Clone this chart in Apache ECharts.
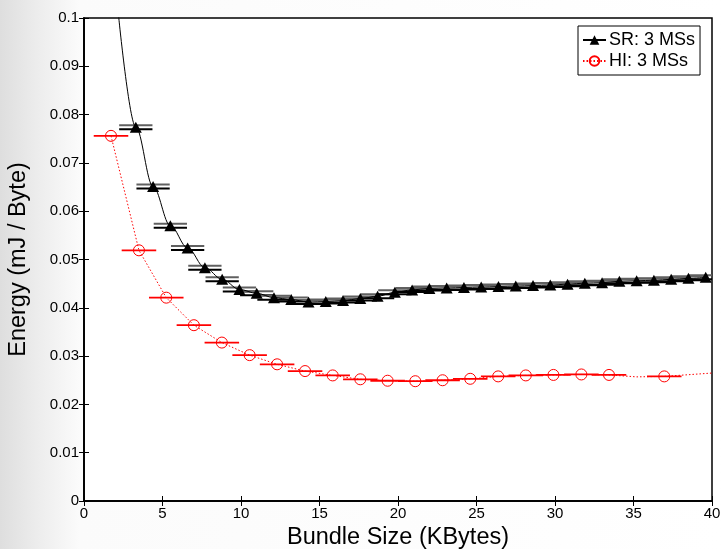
<!DOCTYPE html>
<html>
<head>
<meta charset="utf-8">
<script src="https://cdn.jsdelivr.net/npm/echarts@6/dist/echarts.min.js"></script>
<style>
  html, body { margin: 0; padding: 0; }
  #chart { width: 723px; height: 549px; }
</style>
</head>
<body>
<div id="chart"></div>
<script>
// Bundle size (KBytes) and energy per byte (mJ / Byte)
const srX = [2.2, 3.3, 4.4, 5.5, 6.6, 7.7, 8.8, 9.9, 11.0, 12.1, 13.2, 14.3, 15.4, 16.5, 17.6, 18.7, 19.8,
             20.9, 22.0, 23.1, 24.2, 25.3, 26.4, 27.5, 28.6, 29.7, 30.8, 31.9, 33.0, 34.1, 35.2, 36.3,
             37.4, 38.5, 39.6];
const srY = [0.1005, 0.0774, 0.0651, 0.0570, 0.0524, 0.0483, 0.0459, 0.0438, 0.0430, 0.0421, 0.0417, 0.0412,
             0.0413, 0.0415, 0.0419, 0.0424, 0.0432, 0.0437, 0.0440, 0.0441, 0.0442, 0.0443, 0.0444,
             0.0445, 0.0446, 0.0447, 0.0449, 0.0451, 0.0452, 0.0455, 0.0456, 0.0457, 0.0459, 0.0461,
             0.0463];
const srErr = [0, 1.06, 1.06, 1.06, 1.06, 1.06, 1.06, 1.06, 1.06, 1.06, 1.06, 1.06, 1.06, 1.06, 1.06, 1.06,
               1.06, 1.06, 1.06, 1.06, 1.06, 1.06, 1.06, 1.06, 1.06, 1.06, 1.06, 1.06, 1.06, 1.06, 1.06,
               1.06, 1.06, 1.06, 1.06];
const srMarked = [false, true, true, true, true, true, true, true, true, true, true, true, true, true, true,
                  true, true, true, true, true, true, true, true, true, true, true, true, true, true, true,
                  true, true, true, true, true];

const hiX = [1.72, 3.5, 5.24, 7.0, 8.78, 10.55, 12.3, 14.08, 15.84, 17.6, 19.34, 21.1, 22.84, 24.6,
             26.38, 28.14, 29.9, 31.68, 33.44, 35.2, 36.96, 38.72, 40.48];
const hiY = [0.0756, 0.0519, 0.0421, 0.0364, 0.0328, 0.0302, 0.0283, 0.0269, 0.0260, 0.0252, 0.0249,
             0.0248, 0.0250, 0.0253, 0.0258, 0.0260, 0.0261, 0.0262, 0.0261, 0.0257, 0.0258, 0.0262,
             0.0266];
const hiErr = [1.1, 1.1, 1.1, 1.1, 1.1, 1.1, 1.1, 1.1, 1.1, 1.1, 1.1, 1.1, 1.1, 1.1, 1.1, 1.1, 1.1, 1.1,
               1.1, 0, 1.1, 0, 0];
const hiMarked = [true, true, true, true, true, true, true, true, true, true, true, true, true, true, true,
                  true, true, true, true, false, true, false, false];

const xTicks = [0, 5, 10, 15, 20, 25, 30, 35, 40];
const yTicks = [0, 0.01, 0.02, 0.03, 0.04, 0.05, 0.06, 0.07, 0.08, 0.09, 0.1];

const FONT = 'Liberation Sans, Arial, sans-serif';

function pointData(xs, ys, marked) {
  return xs.map((x, i) => marked[i] ? [x, ys[i]] : { value: [x, ys[i]], symbol: 'none' });
}
function errData(xs, ys, errs) {
  const out = [];
  xs.forEach((x, i) => { if (errs[i] > 0) out.push([x, ys[i], errs[i]]); });
  return out;
}

// Horizontal error bars; SR bars are drawn as a grey/black pair of strokes
function barRenderer(lines) {
  return function (params, api) {
    const x = api.value(0), y = api.value(1), e = api.value(2);
    const a = api.coord([x - e, y]);
    const b = api.coord([x + e, y]);
    const cs = params.coordSys;
    const children = lines.map(l => ({
      type: 'line',
      shape: { x1: a[0], y1: a[1] + l.dy, x2: b[0], y2: b[1] + l.dy },
      style: { stroke: l.color, lineWidth: l.width }
    }));
    return {
      type: 'group',
      children: children,
      clipPath: { type: 'rect', shape: { x: cs.x, y: cs.y, width: cs.width, height: cs.height } }
    };
  };
}

const chart = echarts.init(document.getElementById('chart'));

const axisCommon = {
  axisLine: { show: true, lineStyle: { color: '#000', width: 1.5 } },
  axisTick: { show: true, inside: true, length: 5, lineStyle: { color: '#000', width: 1 } },
  splitLine: { show: false }
};

chart.setOption({
  animation: false,
  backgroundColor: {
    type: 'linear', x: 0, y: 0, x2: 1, y2: 0,
    colorStops: [
      { offset: 0, color: '#dedede' },
      { offset: 0.05, color: '#ececec' },
      { offset: 0.11, color: '#fbfbfb' },
      { offset: 1, color: '#ffffff' }
    ]
  },
  grid: {
    left: 84, right: 11, top: 18, bottom: 48,
    containLabel: false, outerBoundsMode: 'none',
    show: true, backgroundColor: '#ffffff', borderColor: '#000', borderWidth: 1.5
  },
  legend: {
    orient: 'vertical',
    left: 578, top: 26,
    itemWidth: 23, itemHeight: 12, itemGap: 3,
    padding: [5, 5, 5, 4],
    backgroundColor: '#ffffff',
    borderColor: '#000', borderWidth: 1, borderRadius: 0,
    textStyle: { fontFamily: FONT, fontSize: 18, lineHeight: 18, color: '#000', padding: [0, 0, 0, -2] },
    data: ['SR: 3 MSs', 'HI: 3 MSs']
  },
  xAxis: [
    Object.assign({}, axisCommon, {
      type: 'value', min: 0, max: 40, interval: 5, position: 'bottom',
      name: 'Bundle Size (KBytes)', nameLocation: 'middle', nameGap: 24,
      nameTextStyle: { fontFamily: FONT, fontSize: 23.5, color: '#000' },
      axisLabel: {
        fontFamily: FONT, fontSize: 15, color: '#000', margin: 5,
        formatter: v => xTicks.indexOf(v) >= 0 ? String(v) : ''
      }
    }),
    Object.assign({}, axisCommon, {
      type: 'value', min: 0, max: 40, interval: 5, position: 'top',
      axisLabel: { show: false }
    })
  ],
  yAxis: [
    Object.assign({}, axisCommon, {
      type: 'value', min: 0, max: 0.1, interval: 0.01, position: 'left',
      name: 'Energy (mJ / Byte)', nameLocation: 'middle', nameGap: 53,
      nameTextStyle: { fontFamily: FONT, fontSize: 23.5, color: '#000' },
      axisLabel: {
        fontFamily: FONT, fontSize: 15, color: '#000', margin: 5,
        formatter: v => {
          const r = parseFloat(v.toFixed(2));
          return yTicks.indexOf(r) >= 0 ? String(r) : '';
        }
      }
    }),
    Object.assign({}, axisCommon, {
      type: 'value', min: 0, max: 0.1, interval: 0.01, position: 'right',
      axisLabel: { show: false }
    })
  ],
  series: [
    {
      name: 'SR-bars', type: 'custom', xAxisIndex: 0, yAxisIndex: 0, z: 2,
      renderItem: barRenderer([
        { dy: -2, color: '#606060', width: 2 },
        { dy: 2, color: '#000000', width: 2 }
      ]),
      data: errData(srX, srY, srErr), silent: true
    },
    {
      name: 'HI-bars', type: 'custom', xAxisIndex: 0, yAxisIndex: 0, z: 2,
      renderItem: barRenderer([{ dy: 0, color: '#ff0000', width: 1.8 }]),
      data: errData(hiX, hiY, hiErr), silent: true
    },
    {
      name: 'SR: 3 MSs', type: 'line', xAxisIndex: 0, yAxisIndex: 0, z: 4,
      data: pointData(srX, srY, srMarked),
      smooth: 0.35, smoothMonotone: 'x', clip: true,
      symbol: 'triangle', symbolSize: [12, 11],
      lineStyle: { color: '#000', width: 1 },
      itemStyle: { color: '#000', borderColor: '#000', borderWidth: 0 }
    },
    {
      name: 'HI: 3 MSs', type: 'line', xAxisIndex: 0, yAxisIndex: 0, z: 4,
      data: pointData(hiX, hiY, hiMarked),
      clip: true,
      symbol: 'circle', symbolSize: 11,
      lineStyle: { color: '#ff0000', width: 1, type: [1.5, 2] },
      itemStyle: { color: 'rgba(255,255,255,0)', borderColor: '#ff0000', borderWidth: 1 }
    }
  ]
});
</script>
</body>
</html>
